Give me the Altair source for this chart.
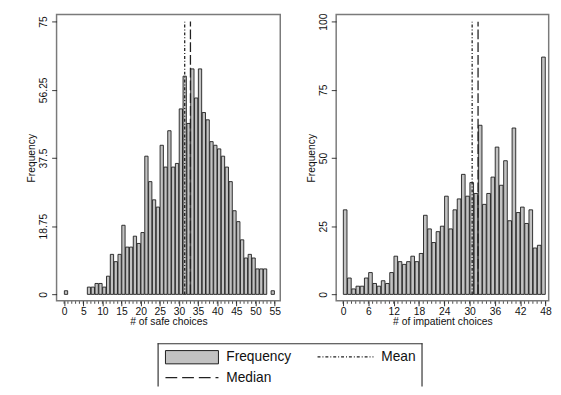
import altair as alt
import pandas as pd

# ---------------- data ----------------
safe_bins = list(range(0, 55))
safe_freq = [1, 0, 0, 0, 0, 0, 2, 2, 3, 3, 2, 5, 11, 9, 11, 19, 13, 13, 16, 14, 17,
             38, 31, 26, 24, 41, 35, 45, 35, 36, 51, 60, 47, 62, 54, 62, 50, 48, 42,
             41, 40, 38, 35, 31, 23, 20, 15, 10, 11, 10, 7, 7, 7, 0, 1]
imp_bins = list(range(0, 48))
imp_freq = [31, 6, 2, 3, 3, 6, 8, 4, 3, 5, 4, 8, 14, 12, 11, 12, 14, 12, 15, 29, 24,
            19, 23, 25, 36, 24, 31, 35, 44, 36, 41, 37, 62, 33, 37, 43, 54, 40, 49,
            27, 61, 30, 32, 26, 31, 17, 18, 87]

safe_xticks = [0, 5, 10, 15, 20, 25, 30, 35, 40, 45, 50, 55]
imp_xticks = [0, 6, 12, 18, 24, 30, 36, 42, 48]
safe_yticks = [0, 18.75, 37.5, 56.25, 75]
imp_yticks = [0, 25, 50, 75, 100]
safe_minor = list(range(0, 56))
imp_minor = list(range(0, 49))

safe_mean, safe_median = 31.5, 33
imp_mean, imp_median = 30.6, 32

x_titles = ["# of safe choices", "# of impatient choices"]
y_title = "Frequency"
legend_labels = ["Frequency", "Mean", "Median"]

# ---------------- styling ----------------
H = 291.8
W_LEFT, W_RIGHT = 228, 216.6
FONT = "Liberation Sans"
BAR_FILL = "#c2c2c2"
EDGE = "#1c1c1c"
LINE = "#222222"
MEAN_DASH = [3, 2, 1, 2]
MEDIAN_DASH = [10, 3]
NUM = "'' + datum.value"


def panel(bins, freq, xdom, ydom, xticks, yticks, minor, xtitle, mean, median, width):
    df = pd.DataFrame({"bin": bins, "freq": freq})
    xs = alt.Scale(domain=xdom, nice=False, zero=False)
    ys = alt.Scale(domain=ydom, nice=False, zero=False)
    xa = alt.Axis(values=xticks, title=xtitle, labelExpr=NUM,
                  labelPadding=1, titlePadding=0, tickSize=5)
    ya = alt.Axis(values=yticks, title=y_title, labelExpr=NUM,
                  labelAngle=-90, labelAlign="center",
                  labelBaseline="bottom", labelPadding=3,
                  titlePadding=2, tickSize=5)

    bars = (
        alt.Chart(df)
        .transform_filter("datum.freq > 0")
        .transform_calculate(x0="datum.bin + 0.07", x1="datum.bin + 0.93", base="0")
        .mark_bar(fill=BAR_FILL, stroke=EDGE, strokeWidth=0.9)
        .encode(
            x=alt.X("x0:Q", scale=xs, axis=xa, title=xtitle),
            x2="x1:Q",
            y=alt.Y("freq:Q", scale=ys, axis=ya, title=y_title),
            y2="base:Q",
        )
    )

    minors = (
        alt.Chart(pd.DataFrame({"m": minor}))
        .mark_rule(color=EDGE, strokeWidth=0.8)
        .encode(x=alt.X("m:Q", scale=xs, axis=xa, title=xtitle),
                y=alt.value(H + 0.5), y2=alt.value(H + 3))
    )

    stats = pd.DataFrame({"v": [mean, median], "lo": [0, 0],
                          "hi": [yticks[-1], yticks[-1]],
                          "kind": ["Mean", "Median"]})
    mean_rule = (
        alt.Chart(stats)
        .transform_filter("datum.kind == 'Mean'")
        .mark_rule(color=LINE, strokeWidth=1.3, strokeDash=MEAN_DASH)
        .encode(x=alt.X("v:Q", scale=xs, axis=xa, title=xtitle),
                y=alt.Y("lo:Q", scale=ys, axis=ya, title=y_title), y2="hi:Q")
    )
    median_rule = (
        alt.Chart(stats)
        .transform_filter("datum.kind == 'Median'")
        .mark_rule(color=LINE, strokeWidth=1.3, strokeDash=MEDIAN_DASH)
        .encode(x=alt.X("v:Q", scale=xs, axis=xa, title=xtitle),
                y=alt.Y("lo:Q", scale=ys, axis=ya, title=y_title), y2="hi:Q")
    )
    return alt.layer(bars, minors, mean_rule, median_rule).properties(width=width, height=H)


left = panel(safe_bins, safe_freq, [-1.97, 56.46], [-1.78, 76.94], safe_xticks,
             safe_yticks, safe_minor, x_titles[0], safe_mean, safe_median, W_LEFT)
right = panel(imp_bins, imp_freq, [-1.63, 48.74], [-2.37, 102.59], imp_xticks,
              imp_yticks, imp_minor, x_titles[1], imp_mean, imp_median, W_RIGHT)

# ---------------- hand-drawn legend box ----------------
LW, LH = 373, 44
one = pd.DataFrame({"a": [0]})


def hrule(x1, x2, y):
    return alt.Chart(one).mark_rule(color="#333", strokeWidth=1.2).encode(
        x=alt.value(x1), x2=alt.value(x2), y=alt.value(y))


def vrule(x, y1, y2):
    return alt.Chart(one).mark_rule(color="#333", strokeWidth=1.2).encode(
        x=alt.value(x), y=alt.value(y1), y2=alt.value(y2))


def label(text, x, y):
    return alt.Chart(pd.DataFrame({"t": [text]})).mark_text(
        align="left", baseline="middle", font=FONT, fontSize=14, color="#111"
    ).encode(text="t:N", x=alt.value(x), y=alt.value(y))


swatch = alt.Chart(one).mark_rect(fill=BAR_FILL, stroke=EDGE, strokeWidth=1).encode(
    x=alt.value(111), x2=alt.value(165), y=alt.value(7.5), y2=alt.value(21))
mean_sw = alt.Chart(one).mark_rule(color=LINE, strokeWidth=1.3, strokeDash=MEAN_DASH).encode(
    x=alt.value(266), x2=alt.value(323), y=alt.value(14))
median_sw = alt.Chart(one).mark_rule(color=LINE, strokeWidth=1.3, strokeDash=[12, 5]).encode(
    x=alt.value(111), x2=alt.value(165), y=alt.value(35))

legend = alt.layer(
    hrule(103, 373, 0.5), vrule(103.5, 0, LH), vrule(372.5, 0, LH),
    swatch, label(legend_labels[0], 173, 14.5),
    mean_sw, label(legend_labels[1], 331, 14.5),
    median_sw, label(legend_labels[2], 173, 35.5),
).properties(width=LW, height=LH, view=alt.ViewBackground(stroke=None))

top = alt.HConcatChart(hconcat=[left, right], spacing=25)
chart = (
    alt.VConcatChart(vconcat=[top, legend], spacing=14)
    .properties(padding={"left": 18.5, "top": 0, "right": 0, "bottom": 0})
    .configure_view(stroke="#7a7a7a", strokeWidth=1.5)
    .configure_axis(labelFont=FONT, titleFont=FONT, labelFontSize=10.5,
                    titleFontSize=10.5, titleFontWeight="normal",
                    labelColor="#111", titleColor="#111", tickColor="#222",
                    tickWidth=0.9, domain=False, grid=False)
)

chart.save("out.html", embed_options={"renderer": "svg", "actions": False})
